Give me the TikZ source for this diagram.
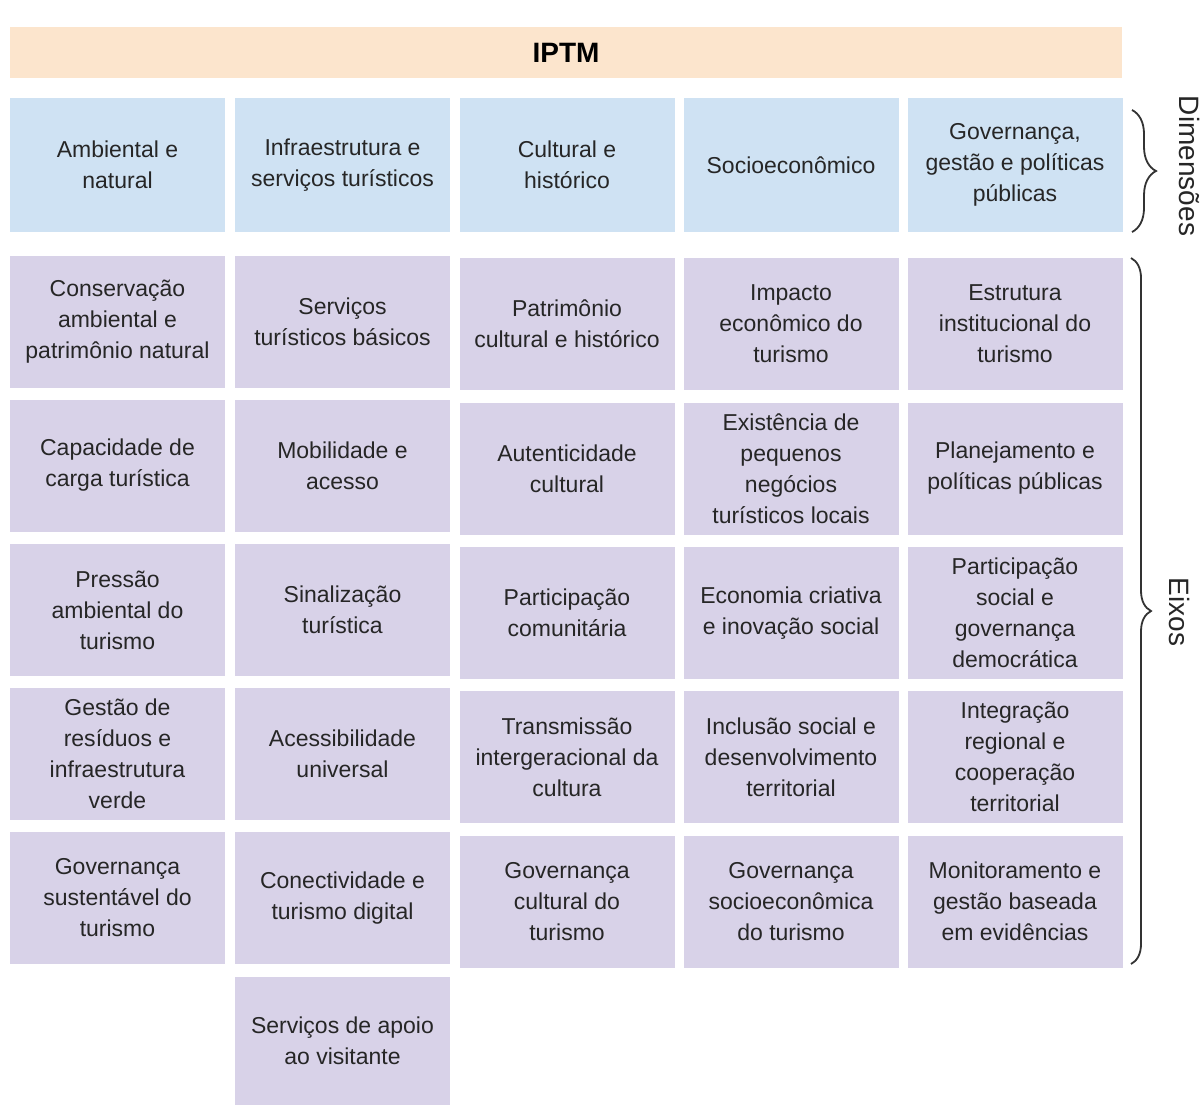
\documentclass[tikz,border=0pt]{standalone}
\usepackage{fontspec}
\setmainfont{Liberation Sans}
\usepackage{xcolor}
\usepackage{tikz}
\usetikzlibrary{decorations.pathreplacing}
\definecolor{pessego}{HTML}{FCE5CD}
\definecolor{azulclaro}{HTML}{CFE2F3}
\definecolor{lilas}{HTML}{D8D2E8}

\begin{document}
\begin{tikzpicture}[
      x=0.5pt, y=-0.5pt,
      box/.style={rectangle, fill=#1, minimum width=107.5pt, minimum height=66pt, inner sep=0pt, align=center, text=black!85, font=\fontsize{11.5}{15.5}\selectfont},
      dimbox/.style={box=azulclaro, minimum height=67pt},
      eixobox/.style={box=lilas},
      chave/.style={decorate, decoration={brace, amplitude=#1}, line width=0.9pt, black!80},
      rotulo/.style={rotate=-90, font=\fontsize{14}{16}\selectfont, text=black!85}
    ]
      \useasboundingbox (0,0) rectangle (1202,1105);
      % Title bar
      \node[box=pessego, minimum width=556pt, minimum height=25.5pt, font=\fontsize{14}{16}\selectfont\bfseries, text=black] (iptm) at (566,52.5) {IPTM};
      % Dimensions
      \node[dimbox] (amb) at (117.5,165) {Ambiental e\\natural};
      \node[dimbox] (infra) at (342.5,165) {Infraestrutura e\\serviços turísticos};
      \node[dimbox] (cult) at (567,165) {Cultural e\\histórico};
      \node[dimbox] (socio) at (791,165) {Socioeconômico};
      \node[dimbox] (gov) at (1015,165) {Governança,\\gestão e políticas\\públicas};
      % Axes: ambiental e natural
      \node[eixobox] (a1) at (117.5,322) {Conservação\\ambiental e\\patrimônio natural};
      \node[eixobox] (a2) at (117.5,465.5) {Capacidade de\\carga turística};
      \node[eixobox] (a3) at (117.5,610) {Pressão\\ambiental do\\turismo};
      \node[eixobox] (a4) at (117.5,754) {Gestão de\\resíduos e\\infraestrutura\\verde};
      \node[eixobox] (a5) at (117.5,898) {Governança\\sustentável do\\turismo};
      % Axes: infraestrutura
      \node[eixobox] (i1) at (342.5,322) {Serviços\\turísticos básicos};
      \node[eixobox] (i2) at (342.5,465.5) {Mobilidade e\\acesso};
      \node[eixobox] (i3) at (342.5,610) {Sinalização\\turística};
      \node[eixobox] (i4) at (342.5,754) {Acessibilidade\\universal};
      \node[eixobox] (i5) at (342.5,898) {Conectividade e\\turismo digital};
      \node[eixobox, minimum height=64pt] (i6) at (342.5,1041) {Serviços de apoio\\ao visitante};
      % Axes: cultural e historico
      \node[eixobox] (c1) at (567,324) {Patrimônio\\cultural e histórico};
      \node[eixobox] (c2) at (567,468.5) {Autenticidade\\cultural};
      \node[eixobox] (c3) at (567,613) {Participação\\comunitária};
      \node[eixobox] (c4) at (567,757) {Transmissão\\intergeracional da\\cultura};
      \node[eixobox] (c5) at (567,901.5) {Governança\\cultural do\\turismo};
      % Axes: socioeconomico
      \node[eixobox] (s1) at (791,324) {Impacto\\econômico do\\turismo};
      \node[eixobox] (s2) at (791,468.5) {Existência de\\pequenos\\negócios\\turísticos locais};
      \node[eixobox] (s3) at (791,613) {Economia criativa\\e inovação social};
      \node[eixobox] (s4) at (791,757) {Inclusão social e\\desenvolvimento\\territorial};
      \node[eixobox] (s5) at (791,901.5) {Governança\\socioeconômica\\do turismo};
      % Axes: governanca
      \node[eixobox] (g1) at (1015,324) {Estrutura\\institucional do\\turismo};
      \node[eixobox] (g2) at (1015,468.5) {Planejamento e\\políticas públicas};
      \node[eixobox] (g3) at (1015,613) {Participação\\social e\\governança\\democrática};
      \node[eixobox] (g4) at (1015,757) {Integração\\regional e\\cooperação\\territorial};
      \node[eixobox] (g5) at (1015,901.5) {Monitoramento e\\gestão baseada\\em evidências};
      % Braces
      \draw[chave=12pt] (1132,110) -- (1132,232);
      \node[rotulo] (dim) at (1189,166) {Dimensões};
      \draw[chave=10pt] (1131,258) -- (1131,964);
      \node[rotulo] (eixos) at (1179,612) {Eixos};
    \end{tikzpicture}
\end{document}
